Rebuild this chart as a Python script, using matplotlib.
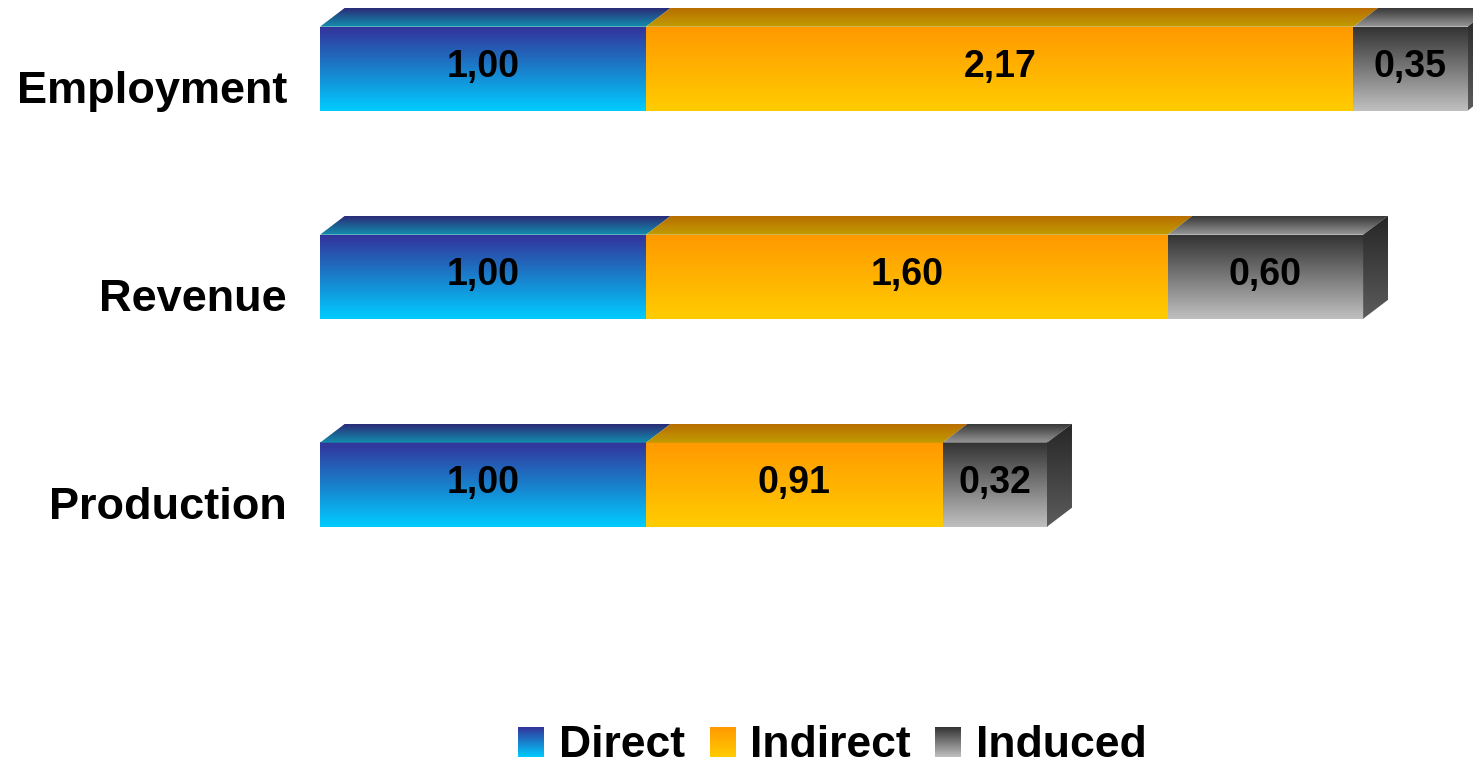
import numpy as np
import matplotlib
matplotlib.use('Agg')
import matplotlib.pyplot as plt
from matplotlib.colors import to_rgb
from matplotlib.patches import Polygon

# dane do wykresu
kategorie = ['Employment', 'Revenue', 'Production']
serie = ['Direct', 'Indirect', 'Induced']
direct = [1.00, 1.00, 1.00]
indirect = [2.17, 1.60, 0.91]
induced = [0.35, 0.60, 0.32]

# kolory: przod (gora, dol), wierzch (tyl, przod), bok (gora, dol)
przod = [('#333399', '#00ccff'), ('#ff9900', '#ffcc00'), ('#333333', '#c0c0c0')]
wierzch = [('#2b2c78', '#128fac'), ('#b86e00', '#c29c00'), ('#383838', '#989898')]
bok = [('#1c1c5c', '#0a7aa0'), ('#a85a00', '#c09000'), ('#262626', '#5c5c5c')]

plt.rcParams['font.family'] = ['Liberation Sans', 'DejaVu Sans']
plt.rcParams['font.weight'] = 'bold'

W, H = 1473, 766
fig = plt.figure(figsize=(W / 100, H / 100), dpi=100)
lewy = 320                        # gdzie zaczynaja sie slupki (px)
ax = fig.add_axes([lewy / W, 0, (W - lewy) / W, 1])
ax.axis('off')

px_x = 326                        # px na jednostke
px_y = 208                        # px miedzy kategoriami
xmax = (W - lewy) / px_x
y_gora = -68.7 / px_y
y_dol = (H - 68.7) / px_y

wys = 84 / px_y                   # wysokosc slupka
dx = 25 / px_x                    # glebokosc 3D w poziomie
dy = 19 / px_y                    # glebokosc 3D w pionie


def gradient(ax, c1, c2, x0, x1, y_top, y_bot, obrys=None):
    '''rysuje pionowy gradient od c1 (gora) do c2 (dol), opcjonalnie przyciety do wielokata'''
    a = np.array(to_rgb(c1))
    b = np.array(to_rgb(c2))
    t = np.linspace(0, 1, 256)[:, None, None]
    img = a + (b - a) * t
    im = ax.imshow(img, extent=[x0, x1, y_bot, y_top], origin='upper',
                   aspect='auto', interpolation='bilinear', zorder=2)
    if obrys is not None:
        p = Polygon(obrys, closed=True, facecolor='none', edgecolor='none',
                    transform=ax.transData)
        im.set_clip_path(p)
    return im


def liczba(v):
    return ('%.2f' % v).replace('.', ',')


wartosci = [direct, indirect, induced]
for i in range(len(kategorie)):
    yt = i - wys / 2              # gorna krawedz przodu
    yb = i + wys / 2              # dolna krawedz przodu
    start = 0
    for s in range(len(serie)):
        v = wartosci[s][i]
        x0, x1 = start, start + v
        # przod slupka
        gradient(ax, przod[s][0], przod[s][1], x0, x1, yt, yb)
        # wierzch slupka
        gora = [(x0, yt), (x1, yt), (x1 + dx, yt - dy), (x0 + dx, yt - dy)]
        gradient(ax, wierzch[s][0], wierzch[s][1], x0, x1 + dx, yt - dy, yt, gora)
        # bok tylko dla ostatniego kawalka
        if s == len(serie) - 1:
            bk = [(x1, yt), (x1 + dx, yt - dy), (x1 + dx, yb - dy), (x1, yb)]
            gradient(ax, bok[s][0], bok[s][1], x1, x1 + dx, yt - dy, yb, bk)
        ax.text((x0 + x1) / 2, i + 8.5 / px_y, liczba(v), ha='center', va='baseline',
                fontsize=27, fontweight='bold', color='black', zorder=5)
        start = x1
    # podpis kategorii
    ax.text(-33 / px_x, i + 34 / px_y, kategorie[i], ha='right', va='baseline',
            fontsize=32.5, fontweight='bold', color='black', clip_on=False)

ax.set_xlim(0, xmax)
ax.set_ylim(y_dol, y_gora)

# legenda
kw_x = [518, 710, 935]
tx_x = [559, 750, 976]
dol_leg = 757                     # linia bazowa legendy (px od gory)
for s in range(len(serie)):
    kw = fig.add_axes([kw_x[s] / W, (H - dol_leg) / H, 26 / W, 30 / H])
    kw.axis('off')
    gradient(kw, przod[s][0], przod[s][1], 0, 1, 0, 1)
    kw.set_xlim(0, 1)
    kw.set_ylim(1, 0)
    fig.text(tx_x[s] / W, (H - dol_leg) / H, serie[s], ha='left', va='baseline',
             fontsize=32, fontweight='bold', color='black')

fig.savefig('out.png', dpi=100)
